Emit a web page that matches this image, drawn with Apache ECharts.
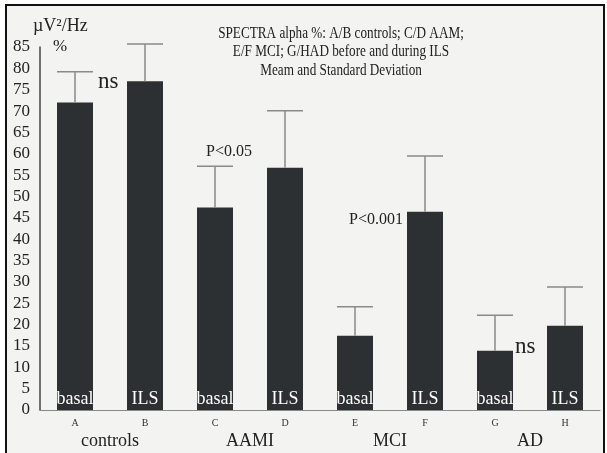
<!DOCTYPE html>
<html>
<head>
<meta charset="utf-8">
<script src="https://cdn.jsdelivr.net/npm/echarts@6/dist/echarts.min.js"></script>
<style>
  html, body { margin: 0; padding: 0; background: #ffffff; }
  #chart { width: 607px; height: 453px; }
</style>
</head>
<body>
<div id="chart"></div>
<script>
  // data
  var letters = ['A', 'B', 'C', 'D', 'E', 'F', 'G', 'H'];
  var groups = ['controls', 'AAMI', 'MCI', 'AD'];
  var inBarLabels = ['basal', 'ILS', 'basal', 'ILS', 'basal', 'ILS', 'basal', 'ILS'];
  var means = [72, 77, 47.4, 56.7, 17.4, 46.4, 13.9, 19.7];
  var upper = [79.2, 85.7, 57.1, 70.1, 24.2, 59.5, 22.2, 28.8];

  var serif = '"Liberation Serif", "DejaVu Serif", serif';
  var chart = echarts.init(document.getElementById('chart'));

  var barData = means.map(function (v, i) {
    return { value: v, label: { formatter: inBarLabels[i] } };
  });
  var errData = means.map(function (v, i) {
    return [i, v, upper[i]];
  });

  var option = {
    backgroundColor: '#ffffff',
    animation: false,
    grid: { left: 40, right: 7, top: 47, bottom: 43 },
    graphic: [
      { type: 'rect', z: -10, shape: { x: 6, y: 5, width: 598, height: 460 },
        style: { fill: '#f3f3f2', stroke: '#111', lineWidth: 2 } },
      { type: 'text', x: 33, y: 17, style: { text: 'µV²/Hz', font: '18px ' + serif, fill: '#222' } },
      { type: 'text', x: 53, y: 38, style: { text: '%', font: '17px ' + serif, fill: '#222' } },
      // title block, scan is a bit squeezed horizontally
      { type: 'text', x: 341, y: 24, scaleX: 0.8, style: {
          text: 'SPECTRA alpha %: A/B controls; C/D AAM;\nE/F MCI; G/HAD before and during ILS\nMeam and Standard Deviation',
          font: '16.5px ' + serif, fill: '#222', align: 'center', lineHeight: 18.5 } },
      { type: 'text', x: 98, y: 70, style: { text: 'ns', font: '23px ' + serif, fill: '#222' } },
      { type: 'text', x: 206, y: 144, style: { text: 'P<0.05', font: '16px ' + serif, fill: '#222' } },
      { type: 'text', x: 349, y: 212, style: { text: 'P<0.001', font: '16px ' + serif, fill: '#222' } },
      { type: 'text', x: 515, y: 335, z: 100, style: { text: 'ns', font: '23px ' + serif, fill: '#222' } }
    ],
    xAxis: [
      {
        type: 'category',
        data: letters,
        axisLine: { lineStyle: { color: '#888', width: 1 } },
        axisTick: { show: false },
        axisLabel: { fontFamily: serif, fontSize: 10, color: '#333', margin: 8 }
      },
      {
        type: 'category',
        data: groups,
        position: 'bottom',
        offset: 18,
        axisLine: { show: false },
        axisTick: { show: false },
        axisLabel: { fontFamily: serif, fontSize: 18, color: '#222', margin: 4 }
      }
    ],
    yAxis: {
      type: 'value',
      min: 0,
      max: 85,
      interval: 5,
      splitLine: { show: false },
      axisLine: { show: true, lineStyle: { color: '#444', width: 1.5 } },
      axisTick: { show: false },
      axisLabel: { fontFamily: serif, fontSize: 17, color: '#222', margin: 10 }
    },
    series: [
      {
        type: 'bar',
        data: barData,
        barWidth: 36,
        itemStyle: { color: '#2c3032' },
        label: {
          show: true,
          position: 'insideBottom',
          distance: 2,
          color: '#ffffff',
          fontFamily: serif,
          fontSize: 18
        },
        z: 2
      },
      {
        type: 'custom',
        data: errData,
        z: 3,
        renderItem: function (params, api) {
          var x = api.value(0);
          var lo = api.coord([x, api.value(1)]);
          var hi = api.coord([x, api.value(2)]);
          var half = 18;
          var st = { stroke: '#8a8a8a', lineWidth: 1.5 };
          return {
            type: 'group',
            children: [
              { type: 'line', shape: { x1: lo[0], y1: lo[1], x2: hi[0], y2: hi[1] }, style: st },
              { type: 'line', shape: { x1: hi[0] - half, y1: hi[1], x2: hi[0] + half, y2: hi[1] }, style: st }
            ]
          };
        }
      }
    ]
  };

  chart.setOption(option);
</script>
</body>
</html>
